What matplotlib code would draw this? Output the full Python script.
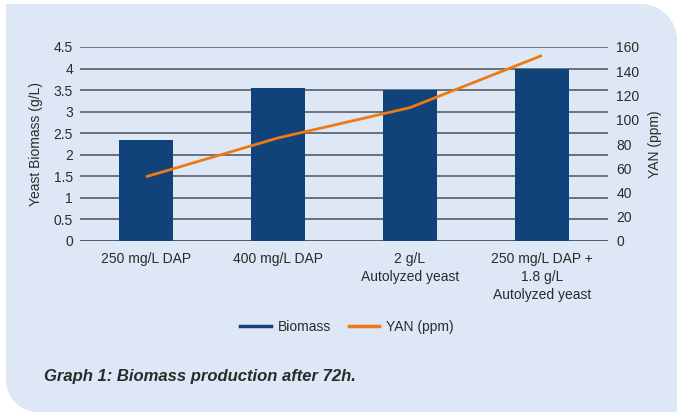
import numpy as np
import matplotlib
matplotlib.use("Agg")
from matplotlib import pyplot as plt
from matplotlib.path import Path
from matplotlib.patches import PathPatch
from matplotlib.lines import Line2D
import matplotlib.transforms as mtrans

plt.rcParams['font.family'] = ['Liberation Sans', 'DejaVu Sans']

categories = ['250 mg/L DAP', '400 mg/L DAP', '2 g/L\nAutolyzed yeast',
              '250 mg/L DAP +\n1.8 g/L\nAutolyzed yeast']
biomass = [2.35, 3.56, 3.5, 4.0]
yan = [53, 85, 110, 153]
left_ticks = [0, 0.5, 1, 1.5, 2, 2.5, 3, 3.5, 4, 4.5]
left_labels = ['0', '0.5', '1', '1.5', '2', '2.5', '3', '3.5', '4', '4.5']
right_ticks = [0, 20, 40, 60, 80, 100, 120, 140, 160]

W, H = 677, 412
fig = plt.figure(figsize=(W/100, H/100), dpi=100)

# background panel (rounded top-right and bottom-left corners), image pixel coords
def px(x, y):
    return (x, H - y)
k = 0.55
r1, r2 = 36, 32
verts = [px(6, 4), px(677 - r1, 4), px(677 - r1 + r1*k, 4), px(677, 4 + r1 - r1*k), px(677, 4 + r1),
         px(677, 412), px(6 + r2, 412), px(6 + r2 - r2*k, 412), px(6, 412 - r2 + r2*k), px(6, 412 - r2),
         px(6, 4)]
codes = [Path.MOVETO, Path.LINETO, Path.CURVE4, Path.CURVE4, Path.CURVE4,
         Path.LINETO, Path.LINETO, Path.CURVE4, Path.CURVE4, Path.CURVE4, Path.CLOSEPOLY]
tr = mtrans.Affine2D().scale(1/W, 1/H) + fig.transFigure
fig.patches.append(PathPatch(Path(verts, codes), facecolor='#dee7f5', edgecolor='none',
                             transform=tr, zorder=-10))

ax = fig.add_axes([80/W, (H-241)/H, 528/W, 194/H])
ax.set_facecolor('none')
x = np.arange(len(categories))
ax.bar(x, biomass, width=0.41, color='#11427a', zorder=3)
ax.set_ylim(0, 4.5)
ax.set_xlim(-0.5, 3.5)
ax.set_yticks(left_ticks)
ax.set_yticklabels(left_labels)
for t in left_ticks:
    ax.axhline(t, color='#333333' if t == 0 else '#4e5157', lw=1.1, zorder=1)
ax.set_xticks(x)
ax.set_xticklabels(categories, fontsize=10, color='#2b2b2b', linespacing=1.35)
ax.tick_params(axis='x', length=0, pad=8)
ax.tick_params(axis='y', length=0, pad=5, labelsize=10, labelcolor='#2b2b2b')
for s in ax.spines.values():
    s.set_visible(False)
ax.set_ylabel('Yeast Biomass (g/L)', fontsize=10, color='#2b2b2b', labelpad=8)

ax2 = ax.twinx()
ax2.plot(x, yan, color='#ee7a14', lw=2.0, zorder=4, solid_capstyle='butt')
ax2.set_ylim(0, 160)
ax2.set_yticks(right_ticks)
ax2.tick_params(axis='y', length=0, pad=6, labelsize=10, labelcolor='#2b2b2b')
for s in ax2.spines.values():
    s.set_visible(False)
ax2.set_ylabel('YAN (ppm)', fontsize=10, color='#2b2b2b', labelpad=6)

handles = [Line2D([], [], color='#11427a', lw=2.5), Line2D([], [], color='#ee7a14', lw=2.5)]
fig.legend(handles, ['Biomass', 'YAN (ppm)'], loc='center', bbox_to_anchor=(347/W, 1 - 327/H),
           ncol=2, frameon=False, fontsize=10, handlelength=2.2, handletextpad=0.5,
           columnspacing=1.3, labelcolor='#2b2b2b')

fig.text(44/W, 1 - 377/H, 'Graph 1: Biomass production after 72h.', fontsize=12,
         fontweight='bold', fontstyle='italic', color='#2b2b2b', va='center', ha='left')

fig.savefig('out.png', dpi=100)
